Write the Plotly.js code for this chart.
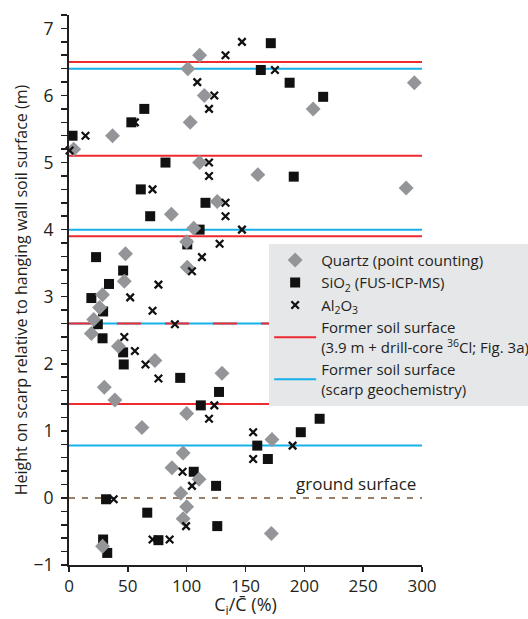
<!DOCTYPE html>
<html>
<head>
<meta charset="utf-8">
<script src="https://cdn.plot.ly/plotly-3.0.1.min.js"></script>
<style>html,body{margin:0;padding:0;background:#fff;}#chart{width:528px;height:619px;}</style>
</head>
<body>
<div id="chart"></div>
<script>
// Quartz (point counting)
const quartzX = [111,101,115,103,37,4,111,160.5,286.5,293.5,207.5,126,87,106,100,48,100.5,47,28.5,26,21,19,42,73,130,30,39,100,62,172.5,97,87.5,110.5,95,100,97,172,28.5];
const quartzY = [6.6,6.4,6.0,5.6,5.4,5.2,5.0,4.82,4.62,6.19,5.8,4.42,4.23,4.02,3.82,3.64,3.44,3.23,3.03,2.84,2.66,2.45,2.26,2.05,1.86,1.65,1.46,1.26,1.05,0.87,0.67,0.45,0.28,0.07,-0.13,-0.31,-0.53,-0.72];
// SiO2 (FUS-ICP-MS)
const sioX = [171.5,302,163,187.5,216,64,53,3,82,191,61,116,69,111,100.5,23,46,34,19,29,24.5,28.5,46,46.5,94.5,127.5,112,213,197,160,169,106,125,31.5,66.5,126,29,76,32.5];
const sioY = [6.78,6.58,6.38,6.19,5.98,5.8,5.6,5.4,5.0,4.79,4.6,4.4,4.2,4.0,3.78,3.59,3.39,3.19,2.98,2.78,2.59,2.38,2.17,1.99,1.79,1.58,1.38,1.18,0.98,0.78,0.58,0.39,0.18,-0.02,-0.22,-0.42,-0.62,-0.63,-0.82];
// Al2O3
const alX = [147,133,175,109,123.5,119,56,14,0.5,119,119,71,133,133,147,128,113,104.5,76,52,71,90,47,56,65,76,123.5,119,156.5,190,156.5,96.5,104.5,38,99.5,71,85.5];
const alY = [6.8,6.6,6.38,6.2,6.0,5.8,5.6,5.4,5.18,5.0,4.8,4.6,4.4,4.2,4.0,3.79,3.59,3.38,3.18,2.99,2.79,2.59,2.4,2.19,1.99,1.78,1.38,1.18,0.98,0.78,0.58,0.39,0.18,-0.02,-0.42,-0.62,-0.62];
// Former soil surfaces
const lineSpan = [0, 300];
const redLevels = [6.5, 5.1, 3.9, 1.4];
const blueLevels = [6.4, 4.0, 0.78, 2.6];
const sharedLevels = [2.6];
const groundLevel = [0];
// Axis ticks
const yTickVals = [-1,0,1,2,3,4,5,6,7];
const xTickVals = [0,50,100,150,200,250,300];

function levelsToXY(levels){
  const x=[], y=[];
  levels.forEach(l=>{ x.push(lineSpan[0], lineSpan[1], null); y.push(l, l, null); });
  return {x, y};
}

const RED = '#ec2a30', BLUE = '#16b1ea', TXT = '#231f20';
const red = levelsToXY(redLevels), blue = levelsToXY(blueLevels), shared = levelsToXY(sharedLevels), ground = levelsToXY(groundLevel);

const traces = [
  {x: ground.x, y: ground.y, mode:'lines', line:{color:'#7a5533', width:1.6, dash:'6px,7px'}, showlegend:false, hoverinfo:'skip'},
  {x: blue.x, y: blue.y, mode:'lines', line:{color:BLUE, width:2}, name:'Former soil surface<br>(scarp geochemistry)', legendrank:5, legendgroup:'e'},
  {x: red.x, y: red.y, mode:'lines', line:{color:RED, width:2}, name:'Former soil surface<br>(3.9 m + drill-core <sup>36</sup>Cl; Fig. 3a)', legendrank:4, legendgroup:'d'},
  {x: shared.x, y: shared.y, mode:'lines', line:{color:RED, width:2, dash:'24px,24px'}, showlegend:false, hoverinfo:'skip'},
  {x: sioX, y: sioY, mode:'markers', marker:{symbol:'square', size:10, color:'#111'}, name:'SiO<sub>2</sub> (FUS-ICP-MS)', legendrank:2, legendgroup:'b', cliponaxis:false},
  {x: quartzX, y: quartzY, mode:'markers', marker:{symbol:'diamond', size:11.5, color:'#939598'}, name:'Quartz (point counting)', legendrank:1, legendgroup:'a', cliponaxis:false},
  {x: alX, y: alY, mode:'markers', marker:{symbol:'x-thin', size:7.5, color:'#111', line:{color:'#111', width:2.3}}, name:'Al<sub>2</sub>O<sub>3</sub>', legendrank:3, legendgroup:'c', cliponaxis:false}
];

const FONT = 'Open Sans, sans-serif';
const layout = {
  width:528, height:619,
  margin:{l:69, r:106, t:15, b:54, pad:0, autoexpand:false},
  paper_bgcolor:'#fff', plot_bgcolor:'#fff',
  font:{family:FONT, color:TXT, size:15},
  showlegend:true,
  legend:{x:0.567, xanchor:'left', y:0.584, yanchor:'top', bgcolor:'#e6e7e8', borderwidth:0,
          font:{family:FONT, size:15, color:TXT}, tracegroupgap:2, traceorder:'normal', itemwidth:42},
  xaxis:{range:[0,300], showgrid:false, zeroline:false, showline:true, linecolor:TXT, linewidth:2,
         ticks:'outside', ticklen:5, tickwidth:1.5, tickcolor:TXT, tickmode:'array', tickvals:xTickVals,
         tickfont:{size:17, family:FONT, color:TXT},
         title:{text:'C<sub>i</sub>/C\u0304 (%)', font:{size:18, family:FONT, color:TXT}, standoff:7}, automargin:false, fixedrange:true},
  yaxis:{range:[-1,7.2], showgrid:false, zeroline:false, showline:true, linecolor:TXT, linewidth:2,
         ticks:'outside', ticklen:6, tickwidth:1.5, tickcolor:TXT, tickmode:'array', tickvals:yTickVals,
         minor:{dtick:0.2, ticks:'outside', ticklen:6, tickwidth:1.5, tickcolor:TXT, showgrid:false},
         ticklabelstandoff:4,
         tickfont:{size:17.5, family:FONT, color:TXT},
         title:{text:'Height on scarp relative to hanging wall soil surface (m)', font:{size:16, family:FONT, color:TXT}, standoff:2}, automargin:false, fixedrange:true},
  annotations:[{x:297, y:0, xref:'x', yref:'y', text:'ground surface', showarrow:false, xanchor:'right', yanchor:'bottom', yshift:1, font:{size:17, family:FONT, color:TXT}}]
};

Plotly.newPlot('chart', traces, layout, {displayModeBar:false, staticPlot:true});
</script>
</body>
</html>
